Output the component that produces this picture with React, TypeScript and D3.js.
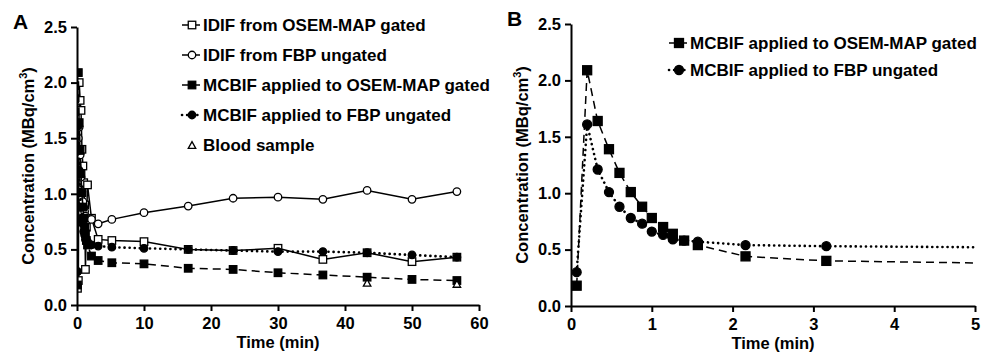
import { useEffect, useRef } from 'react';
import * as d3 from 'd3';

// frame mid-times (min), shared by every series
const times = [0.07, 0.2, 0.33, 0.47, 0.6, 0.74, 0.88, 1.0, 1.14, 1.26, 1.4, 1.57, 2.16, 3.16, 5.2, 10, 16.6, 23.3, 30, 36.7, 43.3, 50, 56.7];

const idifOsem = [0.15, 0.22, 2.0, 1.84, 1.75, 1.4, 1.25, 1.1, 0.9, 0.32, 0.7, 1.08, 0.78, 0.59, 0.58, 0.57, 0.5, 0.49, 0.51, 0.41, 0.47, 0.39, 0.43];
const idifFbp = [0.3, 1.5, 1.6, 1.35, 1.15, 1.02, 0.93, 0.88, 0.84, 0.8, 0.78, 0.76, 0.77, 0.73, 0.77, 0.83, 0.89, 0.96, 0.97, 0.95, 1.03, 0.95, 1.02];
const mcbifOsem = [0.18, 2.09, 1.64, 1.39, 1.18, 1.01, 0.88, 0.78, 0.7, 0.64, 0.58, 0.54, 0.44, 0.4, 0.38, 0.37, 0.33, 0.32, 0.29, 0.27, 0.25, 0.23, 0.22];
const mcbifFbp = [0.3, 1.61, 1.21, 1.01, 0.88, 0.78, 0.73, 0.66, 0.63, 0.59, 0.58, 0.57, 0.54, 0.53, 0.52, 0.51, 0.5, 0.49, 0.48, 0.48, 0.47, 0.45, 0.43];

const bloodTimes = [43.3, 56.7];
const bloodValues = [0.2, 0.19];

const yTicks = [0, 0.5, 1, 1.5, 2, 2.5];
const xTicksA = [0, 10, 20, 30, 40, 50, 60];
const xTicksB = [0, 1, 2, 3, 4, 5];

const legendA = ['IDIF from OSEM-MAP gated', 'IDIF from FBP ungated', 'MCBIF applied to OSEM-MAP gated', 'MCBIF applied to FBP ungated', 'Blood sample'];
const legendB = ['MCBIF applied to OSEM-MAP gated', 'MCBIF applied to FBP ungated'];

const FONT = '"Liberation Sans", Arial, sans-serif';

type Series = {
  ys: number[];
  xs: number[];
  marker: 'sq' | 'sqFill' | 'circ' | 'circFill' | 'tri';
  dash: string | null;
  noLine?: boolean;
};

type Legend = { label: string; marker: Series['marker']; dash: string | null; noLine?: boolean };

type PanelProps = {
  tag: string;
  left: number;
  right: number;
  xMax: number;
  xTicks: number[];
  top: number;
  bottom: number;
  series: Series[];
  legend: Legend[];
  legendX: number;
  legendY: number;
  legendStep: number;
  mSize: number;
};

function drawMarker(g: d3.Selection<SVGGElement, unknown, null, undefined>, kind: Series['marker'], x: number, y: number, s: number) {
  if (kind === 'sq' || kind === 'sqFill') {
    g.append('rect')
      .attr('x', x - s / 2).attr('y', y - s / 2).attr('width', s).attr('height', s)
      .attr('fill', kind === 'sq' ? 'white' : 'black')
      .attr('stroke', 'black').attr('stroke-width', 1.3);
  } else if (kind === 'circ' || kind === 'circFill') {
    g.append('circle')
      .attr('cx', x).attr('cy', y).attr('r', s / 2)
      .attr('fill', kind === 'circ' ? 'white' : 'black')
      .attr('stroke', 'black').attr('stroke-width', 1.3);
  } else {
    const h = s * 0.9;
    g.append('path')
      .attr('d', `M${x},${y - h / 2}L${x + s / 2},${y + h / 2}L${x - s / 2},${y + h / 2}Z`)
      .attr('fill', 'white').attr('stroke', 'black').attr('stroke-width', 1.3);
  }
}

function Panel(p: PanelProps) {
  const ref = useRef<SVGGElement | null>(null);

  useEffect(() => {
    if (!ref.current) return;
    const g = d3.select(ref.current);
    g.selectAll('*').remove();

    const x = d3.scaleLinear().domain([0, p.xMax]).range([p.left, p.right]);
    const y = d3.scaleLinear().domain([0, 2.5]).range([p.bottom, p.top]);

    const clipId = 'clip' + p.tag;
    g.append('clipPath').attr('id', clipId)
      .append('rect').attr('x', p.left).attr('y', p.top - 10).attr('width', p.right - p.left + 1).attr('height', p.bottom - p.top + 20);

    const plot = g.append('g').attr('clip-path', `url(#${clipId})`);

    const line = d3.line<[number, number]>().x(d => x(d[0])).y(d => y(d[1]));

    p.series.forEach(s => {
      const pts = s.xs.map((t, i) => [t, s.ys[i]] as [number, number]);
      if (!s.noLine) {
        plot.append('path')
          .attr('d', line(pts))
          .attr('fill', 'none')
          .attr('stroke', 'black')
          .attr('stroke-width', s.dash === '2,4' ? 2.6 : 1.5)
          .attr('stroke-linecap', s.dash === '2,4' ? 'round' : 'butt')
          .attr('stroke-dasharray', s.dash === '2,4' ? '0.1,5' : s.dash);
      }
      const mg = plot.append('g');
      pts.filter(d => d[0] <= p.xMax).forEach(d => drawMarker(mg as any, s.marker, x(d[0]), y(d[1]), p.mSize));
    });

    // axes
    const ax = g.append('g').attr('transform', `translate(0,${p.bottom})`)
      .call(d3.axisBottom(x).tickValues(p.xTicks).tickSize(6).tickSizeOuter(0).tickPadding(4).tickFormat(d3.format('d')));
    const ay = g.append('g').attr('transform', `translate(${p.left},0)`)
      .call(d3.axisLeft(y).tickValues(yTicks).tickSize(6).tickSizeOuter(0).tickPadding(4).tickFormat(d3.format('.1f')));
    [ax, ay].forEach(a => {
      a.select('.domain').attr('stroke-width', 2);
      a.selectAll('.tick line').attr('stroke-width', 2);
      a.selectAll('text').attr('font-family', FONT).attr('font-size', 16.5).attr('font-weight', 'bold').attr('fill', 'black');
    });
    ax.selectAll('text').attr('dy', '0.85em');

    g.append('text')
      .attr('x', (p.left + p.right) / 2).attr('y', p.bottom + 43)
      .attr('text-anchor', 'middle')
      .attr('font-family', FONT).attr('font-size', 16.5).attr('font-weight', 'bold')
      .text('Time (min)');

    const yt = g.append('text')
      .attr('transform', `translate(${p.left - 43},${(p.top + p.bottom) / 2}) rotate(-90)`)
      .attr('text-anchor', 'middle')
      .attr('font-family', FONT).attr('font-size', 16.5).attr('font-weight', 'bold');
    yt.append('tspan').text('Concentration (MBq/cm');
    yt.append('tspan').attr('font-size', 11).attr('dy', -7).text('3');
    yt.append('tspan').attr('dy', 7).text(')');

    g.append('text')
      .attr('x', p.left - 64).attr('y', p.top + 2)
      .attr('font-family', FONT).attr('font-size', 21).attr('font-weight', 'bold')
      .text(p.tag);

    // legend
    p.legend.forEach((l, i) => {
      const ly = p.legendY + i * p.legendStep;
      const lg = g.append('g');
      if (!l.noLine) {
        lg.append('line')
          .attr('x1', p.legendX).attr('x2', p.legendX + 18).attr('y1', ly).attr('y2', ly)
          .attr('stroke', 'black')
          .attr('stroke-width', l.dash === '2,4' ? 2.6 : 1.5)
          .attr('stroke-linecap', l.dash === '2,4' ? 'round' : 'butt')
          .attr('stroke-dasharray', l.dash === '2,4' ? '0.1,5' : null);
      }
      drawMarker(lg as any, l.marker, p.legendX + 10, ly, p.mSize);
      lg.append('text')
        .attr('x', p.legendX + 21).attr('y', ly).attr('dy', '0.36em')
        .attr('font-family', FONT).attr('font-size', 17).attr('font-weight', 'bold')
        .text(l.label);
    });
  }, [p]);

  return <g ref={ref} />;
}

export default function App() {
  const seriesA: Series[] = [
    { xs: times, ys: idifOsem, marker: 'sq', dash: null },
    { xs: times, ys: idifFbp, marker: 'circ', dash: null },
    { xs: times, ys: mcbifOsem, marker: 'sqFill', dash: '8,5' },
    { xs: times, ys: mcbifFbp, marker: 'circFill', dash: '2,4' },
    { xs: bloodTimes, ys: bloodValues, marker: 'tri', dash: null, noLine: true },
  ];
  const seriesB: Series[] = [
    { xs: times, ys: mcbifOsem, marker: 'sqFill', dash: '8,5' },
    { xs: times, ys: mcbifFbp, marker: 'circFill', dash: '2,4' },
  ];
  const legA: Legend[] = [
    { label: legendA[0], marker: 'sq', dash: null },
    { label: legendA[1], marker: 'circ', dash: null },
    { label: legendA[2], marker: 'sqFill', dash: null },
    { label: legendA[3], marker: 'circFill', dash: '2,4' },
    { label: legendA[4], marker: 'tri', dash: null, noLine: true },
  ];
  const legB: Legend[] = [
    { label: legendB[0], marker: 'sqFill', dash: null },
    { label: legendB[1], marker: 'circFill', dash: '2,4' },
  ];

  return (
    <svg width={984} height={356} style={{ position: 'absolute', left: 0, top: 0, background: 'white' }}>
      <Panel tag="A" left={77} right={479} xMax={60} xTicks={xTicksA} top={27} bottom={305}
        series={seriesA} legend={legA} legendX={182} legendY={25} legendStep={30} mSize={7.5} />
      <Panel tag="B" left={571} right={975} xMax={5} xTicks={xTicksB} top={24} bottom={306}
        series={seriesB} legend={legB} legendX={669} legendY={43} legendStep={27} mSize={9} />
    </svg>
  );
}
